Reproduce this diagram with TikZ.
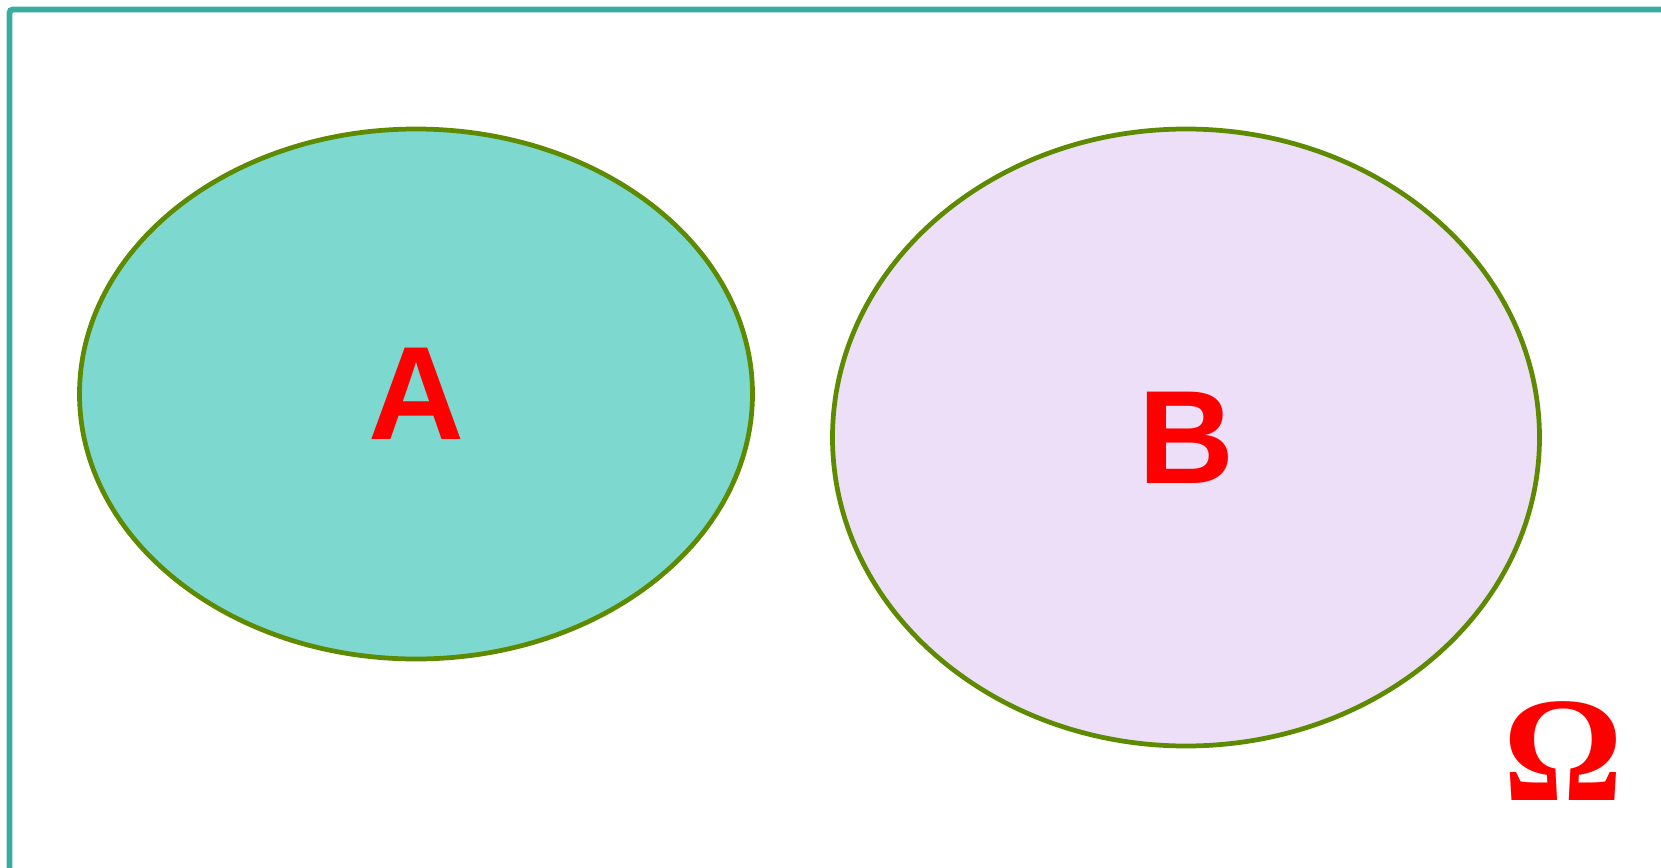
\documentclass[tikz,border=0pt]{standalone}
\usepackage{fontspec}
\setsansfont{Liberation Sans}
\newfontfamily\omegafont{Liberation Serif}
\usetikzlibrary{shapes.geometric}
\definecolor{frameteal}{RGB}{58,173,160}
\definecolor{setteal}{RGB}{125,216,207}
\definecolor{setlilac}{RGB}{237,223,248}
\definecolor{setolive}{RGB}{94,138,0}
\definecolor{labelred}{RGB}{255,0,0}

\begin{document}
\begin{tikzpicture}[
      x=0.1mm, y=-0.1mm,
      setbox/.style={ellipse, draw=setolive, line width=1.35pt, inner sep=0pt,
                     text=labelred, font=\sffamily\bfseries\fontsize{37.8}{37.8}\selectfont},
      universe/.style={draw=frameteal, line width=1.7pt, rounded corners=1pt}
  ]
  %% ---- page size and sample space frame
  \useasboundingbox (0,0) rectangle (1661,868);
  \clip (0,0) rectangle (1661,868);
  \draw[universe] (9.5,9.5) rectangle (1720,920);

  %% ---- the two disjoint events
  \node[setbox, fill=setteal,  minimum width=67.3mm, minimum height=53mm]   (setA) at (416,394)    {A};
  \node[setbox, fill=setlilac, minimum width=70.7mm, minimum height=61.7mm] (setB) at (1186,437.5) {B};

  %% ---- label of the sample space
  \node[text=labelred, inner sep=0pt, font=\omegafont\bfseries\fontsize{42.5}{42.5}\selectfont] (omega) at (1563.5,751) {Ω};
\end{tikzpicture}
\end{document}
